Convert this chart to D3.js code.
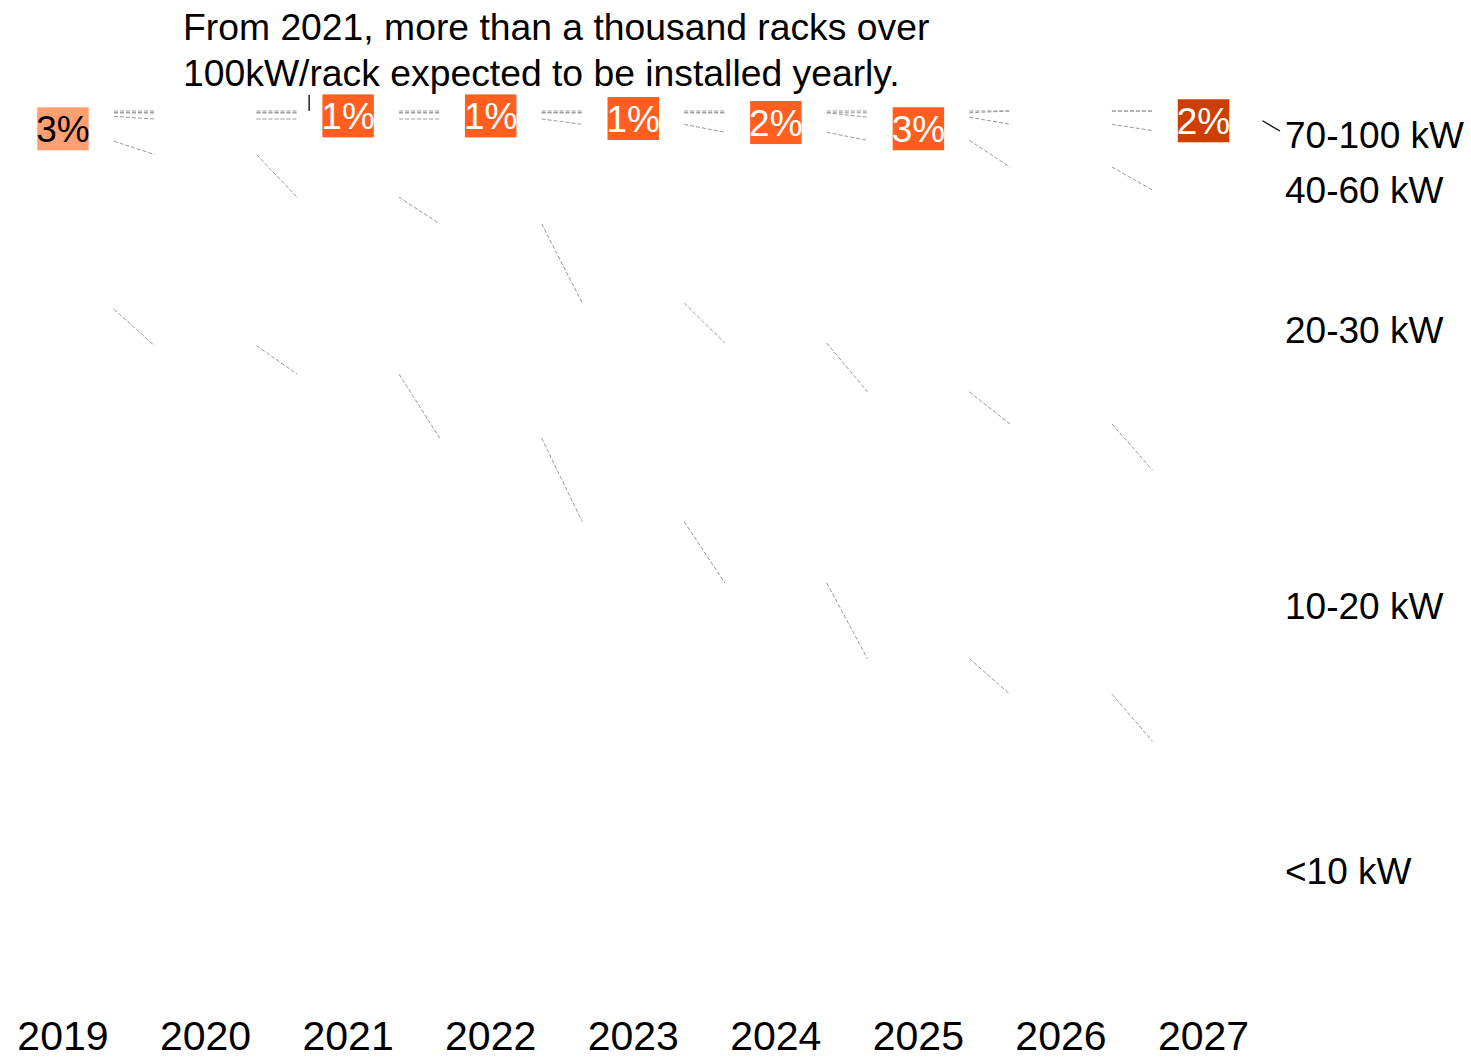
<!DOCTYPE html>
<html>
<head>
<meta charset="utf-8">
<script src="https://cdn.jsdelivr.net/npm/d3@7"></script>
<style>
  html, body { margin: 0; padding: 0; background: #fff; }
  svg { display: block; font-family: "Liberation Sans", Arial, Helvetica, sans-serif; }
</style>
</head>
<body>
<svg id="chart" width="1471" height="1058"></svg>
<script>
// ---- data (% share of racks by density class) ----
const years = ["2019", "2020", "2021", "2022", "2023", "2024", "2025", "2026", "2027"];
const categories = ["<10 kW", "10-20 kW", "20-30 kW", "40-60 kW", "70-100 kW", ">100 kW"];
const lt10   = [77.7, 73.6, 70.4, 63.2, 53.8, 46.9, 38.4, 34.4, 29.1];
const k10_20 = [18.9, 21.5, 19.9, 24.1, 24.6, 27.0, 30.0, 30.4, 30.5];
const k20_30 = [2.8, 4.0, 8.8, 11.8, 20.1, 23.7, 28.3, 28.9, 31.5];
const k40_60 = [0.4, 0.7, 0.7, 0.7, 1.3, 2.2, 2.6, 4.8, 6.7];
const k70_100 = [0, 0, 0, 0, 0, 0, 0.5, 1.5, 2.2];
const gt100  = [0.2, 0.2, 0.2, 0.2, 0.2, 0.2, 0.2, 0, 0];
// highlighted share labels: year -> category
const labelYears = ["2019", "2021", "2022", "2023", "2024", "2025", "2027"];
const labelCats  = ["20-30 kW", "40-60 kW", "40-60 kW", "40-60 kW", "40-60 kW", "40-60 kW", "70-100 kW"];
const rightLabelCats = ["70-100 kW", "40-60 kW", "20-30 kW", "10-20 kW", "<10 kW"];
const annotationLines = ["From 2021, more than a thousand racks over", "100kW/rack expected to be installed yearly."];
const annotationYear = "2021";

// ---- build table ----
const series = [lt10, k10_20, k20_30, k40_60, k70_100, gt100];
const table = years.map((y, i) => {
  const row = { year: y };
  categories.forEach((c, j) => row[c] = series[j][i]);
  return row;
});

const stack = d3.stack().keys(categories).offset(d3.stackOffsetExpand);
const stacked = stack(table);

// ---- layout ----
const svg = d3.select("#chart");
const x = d3.scaleBand().domain(years).range([12, 1254.5]).paddingInner(0.285).paddingOuter(0);
const y = d3.scaleLinear().domain([0, 1]).range([1000, 111]);
const bw = x.bandwidth();

const catFill = d3.scaleOrdinal().domain(["20-30 kW", "40-60 kW", "70-100 kW"])
  .range(["#FFA072", "#FF5E1F", "#CC3F00"]);
const catText = d3.scaleOrdinal().domain(["20-30 kW", "40-60 kW", "70-100 kW"])
  .range(["#000", "#fff", "#fff"]);

// invisible (white) bars
const g = svg.append("g");
stacked.forEach(s => {
  g.selectAll(null).data(s).join("rect")
    .attr("x", d => x(d.data.year))
    .attr("width", bw)
    .attr("y", d => y(d[1]))
    .attr("height", d => Math.max(0, y(d[0]) - y(d[1])))
    .attr("fill", "#fff");
});

// dashed connectors between segment tops of adjacent bars
const conn = svg.append("g")
  .attr("stroke", "#999").attr("stroke-width", 1).attr("stroke-dasharray", "4,2").attr("fill", "none");
stacked.forEach(s => {
  for (let i = 0; i < s.length - 1; i++) {
    conn.append("line")
      .attr("x1", x(s[i].data.year) + bw)
      .attr("x2", x(s[i + 1].data.year))
      .attr("y1", y(s[i][1]))
      .attr("y2", y(s[i + 1][1]));
  }
});

// highlighted percentage labels with background box
const fs = 37;
labelYears.forEach((yr, i) => {
  const cat = labelCats[i];
  const s = stacked[categories.indexOf(cat)];
  const d = s[years.indexOf(yr)];
  const val = d[1] - d[0];
  const cx = x(yr) + bw / 2;
  const cy = y((d[0] + d[1]) / 2);
  const lg = svg.append("g");
  const rect = lg.append("rect").attr("fill", catFill(cat));
  const t = lg.append("text")
    .attr("x", cx).attr("y", cy + fs * 0.358)
    .attr("text-anchor", "middle")
    .attr("font-size", fs)
    .attr("fill", catText(cat))
    .text(Math.round(val * 100) + "%");
  const bb = t.node().getBBox();
  const w = bb.width - 2;
  rect.attr("x", cx - w / 2).attr("y", cy - bb.height / 2 - 1).attr("width", w).attr("height", bb.height + 2);
});

// right-side category labels (2027 bar), with simple collision avoidance
const lastYear = years[years.length - 1];
const lastIdx = years.length - 1;
const labelX = 1285;
let prev = null;
rightLabelCats.forEach((cat, k) => {
  const d = stacked[categories.indexOf(cat)][lastIdx];
  const mid = y((d[0] + d[1]) / 2);
  let ly = (k === 0) ? Math.max(mid, 135) : Math.max(mid, prev + 55);
  if (k === 0 && ly !== mid) {
    svg.append("line")
      .attr("x1", x(lastYear) + bw + 8).attr("y1", mid)
      .attr("x2", labelX - 5).attr("y2", ly - 4)
      .attr("stroke", "#000").attr("stroke-width", 1.3);
  }
  svg.append("text")
    .attr("x", labelX).attr("y", ly + fs * 0.358)
    .attr("font-size", fs).attr("fill", "#000")
    .text(cat);
  prev = ly;
});

// x axis year labels
svg.append("g").selectAll("text").data(years).join("text")
  .attr("x", d => x(d) + bw / 2)
  .attr("y", 1050)
  .attr("text-anchor", "middle")
  .attr("font-size", 41)
  .attr("fill", "#000")
  .text(d => d);

// annotation
svg.append("line")
  .attr("x1", x(annotationYear) + 12).attr("x2", x(annotationYear) + 12)
  .attr("y1", y(1) - 16).attr("y2", y(1))
  .attr("stroke", "#000").attr("stroke-width", 1.3);
const ann = svg.append("text").attr("font-size", 37.3).attr("fill", "#000");
annotationLines.forEach((l, i) => {
  ann.append("tspan").attr("x", 183).attr("y", 40 + i * 46).text(l);
});
</script>
</body>
</html>
